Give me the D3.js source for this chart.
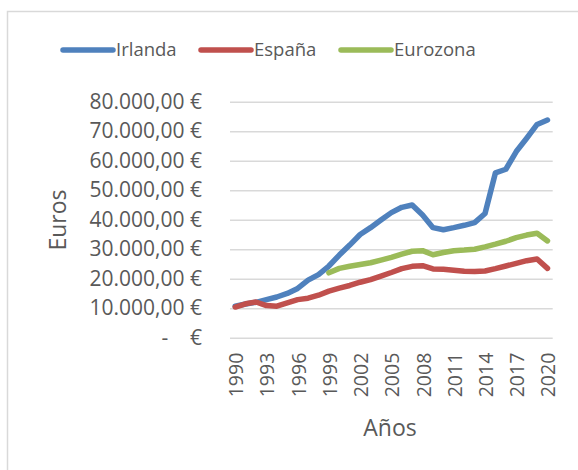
<!DOCTYPE html>
<html>
<head>
<meta charset="utf-8">
<script src="https://cdn.jsdelivr.net/npm/d3@7"></script>
<style>
  body { margin: 0; background: #fff; }
  svg text { font-family: "Open Sans", sans-serif; fill: #595959; }
</style>
</head>
<body>
<svg id="chart" width="578" height="470"></svg>
<script>
var years = d3.range(1990, 2021);
var irlanda = [10700, 11400, 12000, 12900, 13800, 15000, 16700, 19500, 21400, 24300,
  28000, 31400, 35000, 37300, 39900, 42400, 44200, 45000, 41600, 37300,
  36600, 37300, 38100, 39000, 42100, 55900, 57100, 63100, 67600, 72300, 73800];
var espana = [10400, 11500, 12100, 10900, 10700, 11800, 12900, 13400, 14400, 15800,
  16800, 17700, 18800, 19700, 20900, 22100, 23400, 24200, 24400, 23300,
  23200, 22900, 22500, 22400, 22600, 23400, 24300, 25200, 26100, 26700, 23500];
var euroYears = d3.range(1999, 2021);
var eurozona = [22000, 23500, 24200, 24800, 25400, 26300, 27200, 28300, 29300, 29500,
  28100, 28900, 29500, 29700, 30000, 30800, 31700, 32700, 33900, 34800, 35400, 32800];
var yTicks = d3.range(0, 80001, 10000);
var xTicks = d3.range(1990, 2021, 3);

var series = [
  { name: "Irlanda", color: "#4F81BD", years: years, values: irlanda },
  { name: "España", color: "#C0504D", years: years, values: espana },
  { name: "Eurozona", color: "#9BBB59", years: euroYears, values: eurozona }
];

var svg = d3.select("#chart");

// chart area border
svg.append("rect").attr("x", 7.5).attr("y", 11.5).attr("width", 580).attr("height", 470)
  .style("fill", "none").style("stroke", "#D9D9D9").style("stroke-width", 1.5);

var x = d3.scalePoint().domain(years).range([230, 552.7]).padding(0.5);
var y = d3.scaleLinear().domain([0, 80000]).range([337.7, 101.7]);

var es = d3.formatLocale({ decimal: ",", thousands: ".", grouping: [3], currency: ["", " €"] });
var fmt = es.format(",.2f");
function euro(d) { return d === 0 ? "-\u00a0\u00a0\u00a0\u00a0€" : fmt(d) + " €"; }

var yAxis = svg.append("g").attr("transform", "translate(230,0)")
  .call(d3.axisLeft(y).tickValues(yTicks).tickSize(-(552.7 - 230)).tickPadding(28).tickFormat(euro));
yAxis.select(".domain").remove();
yAxis.selectAll("line").style("stroke", "#D9D9D9").style("stroke-width", 1.5);
yAxis.selectAll("text").style("font-size", "21px").style("font-family", "'Open Sans', sans-serif").style("fill", "#595959");

var xAxis = svg.append("g").attr("transform", "translate(0,337.7)")
  .call(d3.axisBottom(x).tickValues(xTicks).tickSize(0));
xAxis.select(".domain").remove();
xAxis.selectAll("text")
  .attr("transform", "rotate(-90)")
  .attr("x", -15).attr("y", 0).attr("dy", "0.38em")
  .style("text-anchor", "end")
  .style("font-size", "19.5px").style("font-family", "'Open Sans', sans-serif").style("fill", "#595959");

var line = d3.line().x(function(d) { return x(d[0]); }).y(function(d) { return y(d[1]); });

series.forEach(function(s) {
  svg.append("path")
    .datum(s.years.map(function(yr, i) { return [yr, s.values[i]]; }))
    .attr("d", line)
    .style("fill", "none").style("stroke", s.color).style("stroke-width", 5.5)
    .style("stroke-linejoin", "round").style("stroke-linecap", "round");
});

// legend
var legendX = [63, 201, 341];
series.forEach(function(s, i) {
  var g = svg.append("g").attr("transform", "translate(" + legendX[i] + ",50)");
  g.append("line").attr("x1", 0).attr("x2", 50).attr("y1", 0).attr("y2", 0)
    .style("stroke", s.color).style("stroke-width", 5.5).style("stroke-linecap", "round");
  g.append("text").attr("x", 53).attr("y", 0).attr("dy", "0.35em")
    .style("font-size", "18.5px").text(s.name);
});

// axis titles
svg.append("text").attr("transform", "translate(58,220) rotate(-90)")
  .attr("dy", "0.35em").style("text-anchor", "middle").style("font-size", "23px").text("Euros");
svg.append("text").attr("x", 390).attr("y", 428).attr("dy", "0.35em")
  .style("text-anchor", "middle").style("font-size", "23px").text("Años");
</script>
</body>
</html>
